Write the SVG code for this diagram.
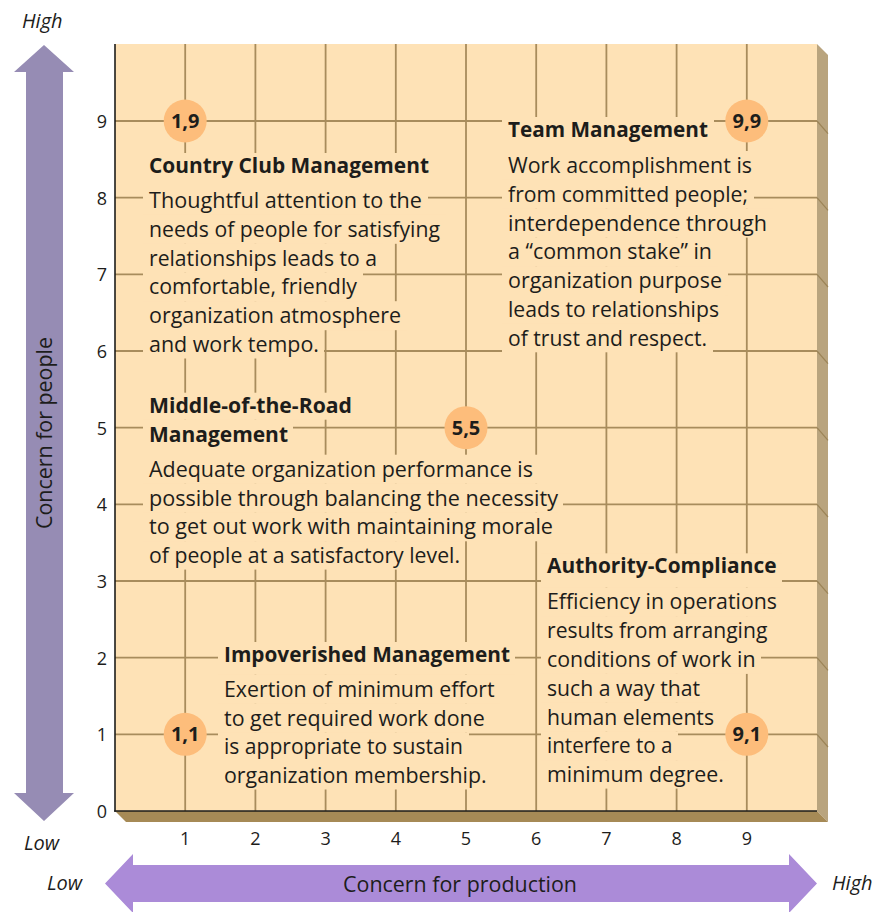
<svg xmlns="http://www.w3.org/2000/svg" width="881" height="912" viewBox="0 0 881 912">
<style>
.grid{stroke:#a88c5c;stroke-width:1.8;fill:none}
.sgrid{stroke:#9c8457;stroke-width:1.2;fill:none}
.ko{fill:#fee2b6}
.h{font-family:"Open Sans","Liberation Sans",sans-serif;font-weight:bold;font-size:21px;fill:#1d1d1b}
.b{font-family:"Open Sans","Liberation Sans",sans-serif;font-size:22px;fill:#1d1d1b}
.num{font-family:"Open Sans","Liberation Sans",sans-serif;font-size:18px;fill:#1d1d1b;text-anchor:middle}
.it{font-family:"Open Sans","Liberation Sans",sans-serif;font-style:italic;font-size:20px;fill:#1d1d1b}
.ax{font-family:"Open Sans","Liberation Sans",sans-serif;font-size:21.5px;fill:#1d1d1b;text-anchor:middle}
.dot{fill:#fdbd7b}
.dl{font-family:"Open Sans","Liberation Sans",sans-serif;font-weight:bold;font-size:20px;fill:#1d1d1b;text-anchor:middle}
</style>

<!-- arrows -->
<g id="arrow-people">
<polygon points="44,45 74,72 63,72 63,793 74,793 44,821 14,793 26,793 26,72 14,72" fill="#968cb4"/>
<text class="ax" transform="translate(52,433) rotate(-90)" textLength="192" lengthAdjust="spacingAndGlyphs">Concern for people</text>
</g>
<g id="arrow-production">
<polygon points="105,883.5 133,854 133,865 789,865 789,854 817,883.5 789,913 789,902 133,902 133,913" fill="#ab8bd8"/>
<text class="ax" x="460" y="892" textLength="234" lengthAdjust="spacingAndGlyphs">Concern for production</text>
</g>
<g id="labels">
<text class="it" x="22" y="28">High</text>
<text class="it" x="24" y="850">Low</text>
<text class="it" x="47" y="890">Low</text>
<text class="it" x="832" y="890">High</text>
</g>

<!-- panel -->
<g id="panel">
<polygon points="817,44 828,55 828,822 817,811" fill="#b9a47e"/>
<polygon points="115,811 817,811 828,822 126,822" fill="#a68a56"/>
<rect x="115" y="44" width="702" height="767" fill="#fee2b6"/>
</g>

<g id="connectors">
<g class="grid">
<line x1="185.2" y1="44" x2="185.2" y2="811"/>
<line x1="255.4" y1="44" x2="255.4" y2="811"/>
<line x1="325.6" y1="44" x2="325.6" y2="811"/>
<line x1="395.8" y1="44" x2="395.8" y2="811"/>
<line x1="466" y1="44" x2="466" y2="811"/>
<line x1="536.2" y1="44" x2="536.2" y2="811"/>
<line x1="606.4" y1="44" x2="606.4" y2="811"/>
<line x1="676.6" y1="44" x2="676.6" y2="811"/>
<line x1="746.8" y1="44" x2="746.8" y2="811"/>
<line x1="115" y1="734.3" x2="817" y2="734.3"/>
<line x1="115" y1="657.7" x2="817" y2="657.7"/>
<line x1="115" y1="581" x2="817" y2="581"/>
<line x1="115" y1="504.3" x2="817" y2="504.3"/>
<line x1="115" y1="427.7" x2="817" y2="427.7"/>
<line x1="115" y1="351" x2="817" y2="351"/>
<line x1="115" y1="274.3" x2="817" y2="274.3"/>
<line x1="115" y1="197.7" x2="817" y2="197.7"/>
<line x1="115" y1="121" x2="817" y2="121"/>
</g>
<g class="sgrid">
<line x1="817" y1="734.3" x2="828" y2="747"/>
<line x1="817" y1="657.7" x2="828" y2="670.4"/>
<line x1="817" y1="581" x2="828" y2="593.7"/>
<line x1="817" y1="504.3" x2="828" y2="517"/>
<line x1="817" y1="427.7" x2="828" y2="440.4"/>
<line x1="817" y1="351" x2="828" y2="363.7"/>
<line x1="817" y1="274.3" x2="828" y2="287"/>
<line x1="817" y1="197.7" x2="828" y2="210.4"/>
<line x1="817" y1="121" x2="828" y2="133.7"/>
</g>
<g stroke="#1d1d1b" stroke-width="1.6">
<line x1="115" y1="44" x2="115" y2="811.8"/>
<line x1="114.2" y1="811" x2="817" y2="811"/>
</g>
</g>

<g id="ticks">
<text class="num" x="102" y="818">0</text>
<text class="num" x="102" y="741">1</text>
<text class="num" x="102" y="665">2</text>
<text class="num" x="102" y="588">3</text>
<text class="num" x="102" y="511">4</text>
<text class="num" x="102" y="435">5</text>
<text class="num" x="102" y="358">6</text>
<text class="num" x="102" y="281">7</text>
<text class="num" x="102" y="205">8</text>
<text class="num" x="102" y="128">9</text>
<text class="num" x="185.2" y="845">1</text>
<text class="num" x="255.4" y="845">2</text>
<text class="num" x="325.6" y="845">3</text>
<text class="num" x="395.8" y="845">4</text>
<text class="num" x="466" y="845">5</text>
<text class="num" x="536.2" y="845">6</text>
<text class="num" x="606.4" y="845">7</text>
<text class="num" x="676.6" y="845">8</text>
<text class="num" x="746.8" y="845">9</text>
</g>

<!-- Country Club -->
<g id="country-club">
<rect class="ko" x="143" y="153" width="292" height="33"/>
<rect class="ko" x="143" y="186" width="285" height="29"/>
<rect class="ko" x="143" y="214.8" width="303" height="29"/>
<rect class="ko" x="143" y="243.6" width="240" height="29"/>
<rect class="ko" x="143" y="272.4" width="220" height="29"/>
<rect class="ko" x="143" y="301.2" width="264" height="29"/>
<rect class="ko" x="143" y="330" width="181" height="28.5"/>
<text class="h" x="149" y="173" textLength="280" lengthAdjust="spacingAndGlyphs">Country Club Management</text>
<text class="b" x="149" y="208" textLength="273" lengthAdjust="spacingAndGlyphs">Thoughtful attention to the</text>
<text class="b" x="149" y="236.8" textLength="291" lengthAdjust="spacingAndGlyphs">needs of people for satisfying</text>
<text class="b" x="149" y="265.6" textLength="228" lengthAdjust="spacingAndGlyphs">relationships leads to a</text>
<text class="b" x="149" y="294.4" textLength="208" lengthAdjust="spacingAndGlyphs">comfortable, friendly</text>
<text class="b" x="149" y="323.2" textLength="252" lengthAdjust="spacingAndGlyphs">organization atmosphere</text>
<text class="b" x="149" y="352" textLength="170" lengthAdjust="spacingAndGlyphs">and work tempo.</text>
</g>

<!-- Team -->
<g id="team">
<rect class="ko" x="502" y="117" width="212" height="34"/>
<rect class="ko" x="502" y="151" width="256" height="29"/>
<rect class="ko" x="502" y="179.8" width="252" height="29"/>
<rect class="ko" x="502" y="208.6" width="271" height="29"/>
<rect class="ko" x="502" y="237.4" width="216" height="29"/>
<rect class="ko" x="502" y="266.2" width="226" height="29"/>
<rect class="ko" x="502" y="295" width="223" height="29"/>
<rect class="ko" x="502" y="323.8" width="211" height="28.5"/>
<text class="h" x="508" y="137" textLength="200" lengthAdjust="spacingAndGlyphs">Team Management</text>
<text class="b" x="508" y="173" textLength="244" lengthAdjust="spacingAndGlyphs">Work accomplishment is</text>
<text class="b" x="508" y="201.8" textLength="240" lengthAdjust="spacingAndGlyphs">from committed people;</text>
<text class="b" x="508" y="230.6" textLength="259" lengthAdjust="spacingAndGlyphs">interdependence through</text>
<text class="b" x="508" y="259.4" textLength="204" lengthAdjust="spacingAndGlyphs">a “common stake” in</text>
<text class="b" x="508" y="288.2" textLength="214" lengthAdjust="spacingAndGlyphs">organization purpose</text>
<text class="b" x="508" y="317" textLength="211" lengthAdjust="spacingAndGlyphs">leads to relationships</text>
<text class="b" x="508" y="345.8" textLength="199" lengthAdjust="spacingAndGlyphs">of trust and respect.</text>
</g>

<!-- Middle of the road -->
<g id="middle">
<rect class="ko" x="143" y="392.7" width="214" height="27"/>
<rect class="ko" x="143" y="419.5" width="150" height="35.5"/>
<rect class="ko" x="143" y="454.7" width="395" height="29"/>
<rect class="ko" x="143" y="483.5" width="420" height="29"/>
<rect class="ko" x="143" y="512.3" width="415" height="29"/>
<rect class="ko" x="143" y="541.1" width="322" height="28.5"/>
<text class="h" x="149" y="412.7" textLength="203" lengthAdjust="spacingAndGlyphs">Middle-of-the-Road</text>
<text class="h" x="149" y="441.5" textLength="139" lengthAdjust="spacingAndGlyphs">Management</text>
<text class="b" x="149" y="476.7" textLength="384" lengthAdjust="spacingAndGlyphs">Adequate organization performance is</text>
<text class="b" x="149" y="505.5" textLength="409" lengthAdjust="spacingAndGlyphs">possible through balancing the necessity</text>
<text class="b" x="149" y="534.3" textLength="404" lengthAdjust="spacingAndGlyphs">to get out work with maintaining morale</text>
<text class="b" x="149" y="563.1" textLength="311" lengthAdjust="spacingAndGlyphs">of people at a satisfactory level.</text>
</g>

<!-- Authority-Compliance -->
<g id="authority">
<rect class="ko" x="541" y="553.3" width="241" height="34"/>
<rect class="ko" x="541" y="587.3" width="241" height="29"/>
<rect class="ko" x="541" y="616.1" width="232" height="29"/>
<rect class="ko" x="541" y="644.9" width="220" height="29"/>
<rect class="ko" x="541" y="673.7" width="164" height="29"/>
<rect class="ko" x="541" y="702.5" width="178" height="29"/>
<rect class="ko" x="541" y="731.3" width="137" height="29"/>
<rect class="ko" x="541" y="760.1" width="188" height="28.5"/>
<text class="h" x="547" y="573.3" textLength="229.5" lengthAdjust="spacingAndGlyphs">Authority-Compliance</text>
<text class="b" x="547" y="609.3" textLength="230" lengthAdjust="spacingAndGlyphs">Efficiency in operations</text>
<text class="b" x="547" y="638.1" textLength="220.4" lengthAdjust="spacingAndGlyphs">results from arranging</text>
<text class="b" x="547" y="666.9" textLength="208.5" lengthAdjust="spacingAndGlyphs">conditions of work in</text>
<text class="b" x="547" y="695.7" textLength="153" lengthAdjust="spacingAndGlyphs">such a way that</text>
<text class="b" x="547" y="724.5" textLength="167" lengthAdjust="spacingAndGlyphs">human elements</text>
<text class="b" x="547" y="753.3" textLength="125.5" lengthAdjust="spacingAndGlyphs">interfere to a</text>
<text class="b" x="547" y="782.1" textLength="177" lengthAdjust="spacingAndGlyphs">minimum degree.</text>
</g>

<!-- Impoverished -->
<g id="impoverished">
<rect class="ko" x="218" y="642" width="297" height="32.7"/>
<rect class="ko" x="218" y="674.7" width="282" height="29"/>
<rect class="ko" x="218" y="703.5" width="272" height="29"/>
<rect class="ko" x="218" y="732.3" width="251" height="29"/>
<rect class="ko" x="218" y="761" width="274" height="28.5"/>
<text class="h" x="224" y="662" textLength="286" lengthAdjust="spacingAndGlyphs">Impoverished Management</text>
<text class="b" x="224" y="696.7" textLength="270.6" lengthAdjust="spacingAndGlyphs">Exertion of minimum effort</text>
<text class="b" x="224" y="725.5" textLength="260.7" lengthAdjust="spacingAndGlyphs">to get required work done</text>
<text class="b" x="224" y="754.3" textLength="239" lengthAdjust="spacingAndGlyphs">is appropriate to sustain</text>
<text class="b" x="224" y="783" textLength="262.7" lengthAdjust="spacingAndGlyphs">organization membership.</text>
</g>

<!-- grid points -->
<g id="p19"><circle class="dot" cx="185.2" cy="121" r="21.5"/><text class="dl" x="185.2" y="128">1,9</text></g>
<g id="p99"><circle class="dot" cx="746.8" cy="121" r="21.5"/><text class="dl" x="746.8" y="128">9,9</text></g>
<g id="p55"><circle class="dot" cx="466" cy="427.7" r="21.5"/><text class="dl" x="466" y="434.7">5,5</text></g>
<g id="p11"><circle class="dot" cx="185.2" cy="734.3" r="21.5"/><text class="dl" x="185.2" y="741.3">1,1</text></g>
<g id="p91"><circle class="dot" cx="746.8" cy="734.3" r="21.5"/><text class="dl" x="746.8" y="741.3">9,1</text></g>
</svg>
